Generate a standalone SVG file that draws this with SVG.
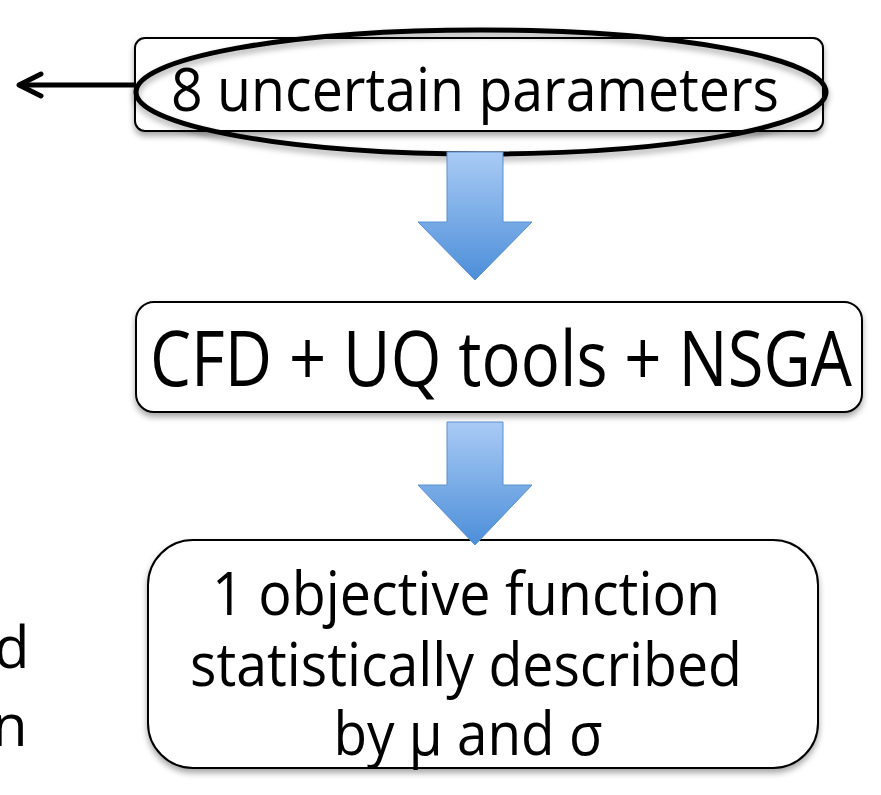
<svg xmlns="http://www.w3.org/2000/svg" width="881" height="795" viewBox="0 0 881 795">
<style>
.box{fill:#fff;stroke:#000;stroke-width:2;filter:url(#sh)}
.t{font-family:"Open Sans","Liberation Sans",sans-serif;fill:#000;text-anchor:middle}
.blue{fill:url(#bg);stroke:#5b8fcf;stroke-width:1}
</style>
<defs>
<filter id="sh" x="-10%" y="-10%" width="120%" height="130%">
<feGaussianBlur in="SourceAlpha" stdDeviation="3"/>
<feOffset dx="0" dy="4" result="b"/>
<feComponentTransfer><feFuncA type="linear" slope="0.35"/></feComponentTransfer>
<feMerge><feMergeNode/><feMergeNode in="SourceGraphic"/></feMerge>
</filter>
<linearGradient id="bg" x1="0" y1="0" x2="0" y2="1">
<stop offset="0" stop-color="#a9cbf5"/>
<stop offset="1" stop-color="#4c8ed9"/>
</linearGradient>
<marker id="ah" markerWidth="30" markerHeight="30" refX="27" refY="15" orient="auto" markerUnits="userSpaceOnUse" viewBox="0 0 30 30">
<path d="M5,4 L27,15 L5,26" fill="none" stroke="#000" stroke-width="5" stroke-linecap="round" stroke-linejoin="round"/>
</marker>
</defs>
<g id="n-left">
<text class="t" x="-6" y="668" font-size="58" style="text-anchor:start">d</text>
<text class="t" x="-8" y="746" font-size="58" style="text-anchor:start">n</text>
</g>
<g id="n-params">
<rect class="box" x="135" y="38" width="688" height="93" rx="10"/>
<text class="t" x="475" y="111" font-size="60" textLength="608" lengthAdjust="spacingAndGlyphs">8 uncertain parameters</text>
<ellipse cx="481" cy="92" rx="345" ry="62" fill="none" stroke="#000" stroke-width="5" filter="url(#sh)"/>
</g>
<g id="n-cfd">
<rect class="box" x="136" y="302" width="726" height="110" rx="18"/>
<text class="t" x="501" y="386" font-size="76" textLength="702" lengthAdjust="spacingAndGlyphs">CFD + UQ tools + NSGA</text>
</g>
<g id="n-obj">
<rect class="box" x="148" y="540" width="670" height="228" rx="45"/>
<text class="t" x="466" y="615" font-size="60" textLength="508" lengthAdjust="spacingAndGlyphs">1 objective function</text>
<text class="t" x="466" y="686" font-size="60" textLength="552" lengthAdjust="spacingAndGlyphs">statistically described</text>
<text class="t" x="468" y="755" font-size="60" textLength="269" lengthAdjust="spacingAndGlyphs">by μ and σ</text>
</g>
<g id="connectors">
<line x1="136" y1="85" x2="19" y2="85" stroke="#000" stroke-width="5" marker-end="url(#ah)"/>
<path class="blue" d="M447,152 L503,152 L503,222 L532,222 L475,280 L418,222 L447,222 Z"/>
<path class="blue" d="M447,422 L503,422 L503,485 L532,485 L475,545 L418,485 L447,485 Z"/>
</g>
</svg>
